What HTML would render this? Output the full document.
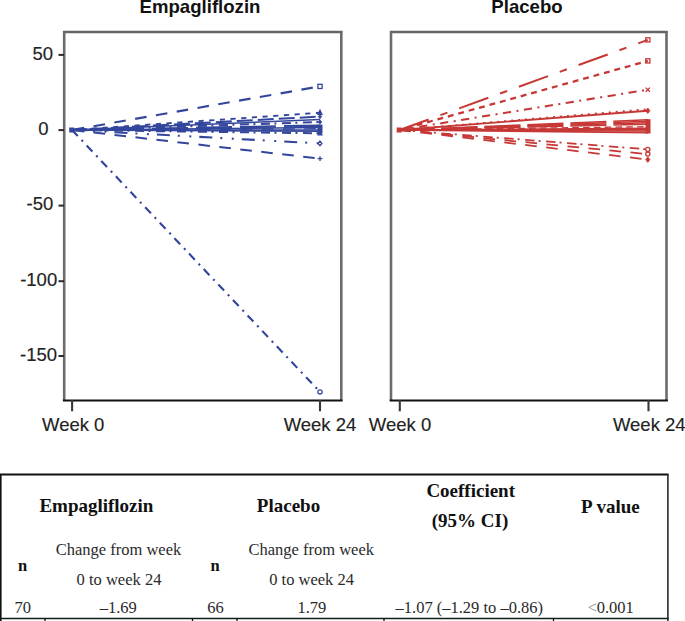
<!DOCTYPE html>
<html><head><meta charset="utf-8"><style>
html,body{margin:0;padding:0;background:#fff;width:685px;height:621px;overflow:hidden}
svg{display:block}
</style></head><body>
<svg width="685" height="621" viewBox="0 0 685 621">
<rect width="685" height="621" fill="#fff"/>
<line x1="72" y1="130.0" x2="320" y2="86.4" stroke="#33469c" stroke-width="2.16" stroke-dasharray="11.6 9.5" stroke-dashoffset="-0.8"/>
<line x1="72" y1="130.0" x2="320" y2="112.7" stroke="#33469c" stroke-width="1.89" stroke-dasharray="5.2 5.5" stroke-dashoffset="1.6"/>
<line x1="72" y1="130.0" x2="320" y2="116.6" stroke="#33469c" stroke-width="2.03" stroke-dasharray="16 5" stroke-dashoffset="3"/>
<line x1="72" y1="130.0" x2="320" y2="119.5" stroke="#33469c" stroke-width="1.62"/>
<line x1="72" y1="130.0" x2="320" y2="122.0" stroke="#33469c" stroke-width="2.03" stroke-dasharray="9 4.5 2 5.5"/>
<line x1="72" y1="130.0" x2="320" y2="125.2" stroke="#33469c" stroke-width="1.62" stroke-dasharray="36 8" stroke-dashoffset="8"/>
<line x1="72" y1="130.0" x2="320" y2="126.4" stroke="#33469c" stroke-width="1.49" stroke-dasharray="36 8" stroke-dashoffset="8"/>
<line x1="72" y1="130.0" x2="320" y2="127.6" stroke="#33469c" stroke-width="1.49"/>
<line x1="72" y1="130.0" x2="320" y2="128.8" stroke="#33469c" stroke-width="1.49" stroke-dasharray="11.6 9.5"/>
<line x1="72" y1="130.0" x2="320" y2="130.0" stroke="#33469c" stroke-width="1.62"/>
<line x1="72" y1="130.0" x2="320" y2="131.2" stroke="#33469c" stroke-width="1.62"/>
<line x1="72" y1="130.0" x2="320" y2="133.3" stroke="#33469c" stroke-width="2.03" stroke-dasharray="9 4.5 2 5.5"/>
<line x1="72" y1="130.0" x2="320" y2="143.4" stroke="#33469c" stroke-width="2.03" stroke-dasharray="13 8 2 9.5 2 8"/>
<line x1="72" y1="130.0" x2="320" y2="158.6" stroke="#33469c" stroke-width="2.03" stroke-dasharray="11.6 9.5" stroke-dashoffset="-0.6"/>
<line x1="72" y1="130.0" x2="320" y2="391.9" stroke="#33469c" stroke-width="2.16" stroke-dasharray="8.4 5.5 2 5.38"/>
<rect x="317.9" y="84.3" width="4.2" height="4.2" fill="none" stroke="#33469c" stroke-width="1.3"/>
<path d="M320.0 110.0 L322.1 114.4 L317.9 114.4Z" fill="#33469c" stroke="#33469c" stroke-width="1.04"/>
<path d="M320.0 114.4 L321.7 116.6 L320.0 118.8 L318.3 116.6Z" fill="#33469c" stroke="#33469c" stroke-width="0.78"/>
<path d="M320.0 119.8 L321.7 122.0 L320.0 124.2 L318.3 122.0Z" fill="#33469c" stroke="#33469c" stroke-width="0.78"/>
<path d="M320.0 130.6 L322.1 135.0 L317.9 135.0Z" fill="#33469c" stroke="#33469c" stroke-width="1.04"/>
<path d="M320.0 141.1 L321.9 143.4 L320.0 145.7 L318.1 143.4Z" fill="none" stroke="#33469c" stroke-width="1.3"/>
<path d="M317.6 158.6 L322.4 158.6 M320.0 156.2 L320.0 161.0" fill="none" stroke="#33469c" stroke-width="1.3"/>
<circle cx="320.0" cy="391.9" r="2.10" fill="none" stroke="#33469c" stroke-width="1.3"/>
<rect x="317.5" y="124.6" width="5" height="8.7" fill="#33469c"/>
<rect x="69.2" y="127.5" width="5.0" height="5.0" fill="#33469c"/>
<line x1="399.5" y1="130.0" x2="647.8" y2="39.9" stroke="#c63836" stroke-width="2.03" stroke-dasharray="31 12.5 7.5 12.5"/>
<line x1="399.5" y1="130.0" x2="647.8" y2="60.9" stroke="#c63836" stroke-width="2.29" stroke-dasharray="5.9 4.9" stroke-dashoffset="3.8"/>
<line x1="399.5" y1="130.0" x2="647.8" y2="89.7" stroke="#c63836" stroke-width="2.03" stroke-dasharray="8.2 5.5 2 5.5" stroke-dashoffset="1.2"/>
<line x1="399.5" y1="130.0" x2="647.8" y2="109.2" stroke="#c63836" stroke-width="1.76" stroke-dasharray="2 5"/>
<line x1="399.5" y1="130.0" x2="647.8" y2="110.7" stroke="#c63836" stroke-width="1.89"/>
<line x1="399.5" y1="130.0" x2="647.8" y2="119.8" stroke="#c63836" stroke-width="1.62" stroke-dasharray="36 7" stroke-dashoffset="1"/>
<line x1="399.5" y1="130.0" x2="647.8" y2="121.3" stroke="#c63836" stroke-width="1.49" stroke-dasharray="36 7" stroke-dashoffset="1"/>
<line x1="399.5" y1="130.0" x2="647.8" y2="122.8" stroke="#c63836" stroke-width="1.49" stroke-dasharray="36 7" stroke-dashoffset="1"/>
<line x1="399.5" y1="130.0" x2="647.8" y2="124.3" stroke="#c63836" stroke-width="1.49" stroke-dasharray="36 7" stroke-dashoffset="1"/>
<line x1="399.5" y1="130.0" x2="647.8" y2="126.7" stroke="#c63836" stroke-width="1.35" stroke-dasharray="6.6 4.2"/>
<line x1="399.5" y1="130.0" x2="647.8" y2="128.3" stroke="#c63836" stroke-width="1.49"/>
<line x1="399.5" y1="130.0" x2="647.8" y2="129.7" stroke="#c63836" stroke-width="1.49"/>
<line x1="399.5" y1="130.0" x2="647.8" y2="131.1" stroke="#c63836" stroke-width="1.49"/>
<line x1="399.5" y1="130.0" x2="647.8" y2="132.6" stroke="#c63836" stroke-width="1.62"/>
<line x1="399.5" y1="130.0" x2="647.8" y2="149.4" stroke="#c63836" stroke-width="1.76" stroke-dasharray="9.5 4 2 5.5"/>
<line x1="399.5" y1="130.0" x2="647.8" y2="154.1" stroke="#c63836" stroke-width="1.76" stroke-dasharray="11.6 9.5"/>
<line x1="399.5" y1="130.0" x2="647.8" y2="159.6" stroke="#c63836" stroke-width="1.76" stroke-dasharray="11.6 9.5"/>
<rect x="645.7" y="37.8" width="4.2" height="4.2" fill="none" stroke="#c63836" stroke-width="1.3"/>
<rect x="645.7" y="58.8" width="4.2" height="4.2" fill="none" stroke="#c63836" stroke-width="1.3"/>
<path d="M645.7 87.6 L649.9 91.8 M649.9 87.6 L645.7 91.8" fill="none" stroke="#c63836" stroke-width="1.3"/>
<path d="M647.8 108.0 L649.9 110.7 L647.8 113.5 L645.7 110.7Z" fill="#c63836" stroke="#c63836" stroke-width="0.78"/>
<circle cx="647.8" cy="149.4" r="2.10" fill="none" stroke="#c63836" stroke-width="1.3"/>
<circle cx="647.8" cy="154.1" r="2.10" fill="none" stroke="#c63836" stroke-width="1.3"/>
<path d="M647.8 156.9 L649.9 159.6 L647.8 162.4 L645.7 159.6Z" fill="#c63836" stroke="#c63836" stroke-width="0.78"/>
<rect x="645.5" y="119.2" width="5" height="14.3" fill="#c63836"/>
<rect x="396.7" y="127.5" width="5.0" height="5.0" fill="#c63836"/>
<line x1="64.2" y1="31" x2="64.2" y2="401" stroke="#6c6c6c" stroke-width="2.6"/>
<line x1="341.3" y1="31" x2="341.3" y2="401" stroke="#6c6c6c" stroke-width="2.6"/>
<line x1="63.2" y1="32" x2="342.3" y2="32" stroke="#666" stroke-width="2.3"/>
<line x1="62.900000000000006" y1="400.5" x2="342.6" y2="400.5" stroke="#111" stroke-width="1.9"/>
<line x1="72.1" y1="400" x2="72.1" y2="411.3" stroke="#383838" stroke-width="2.1"/>
<line x1="320" y1="400" x2="320" y2="411.3" stroke="#383838" stroke-width="2.1"/>
<line x1="391" y1="31" x2="391" y2="401" stroke="#6c6c6c" stroke-width="2.6"/>
<line x1="666.5" y1="31" x2="666.5" y2="401" stroke="#6c6c6c" stroke-width="2.6"/>
<line x1="390" y1="32" x2="667.5" y2="32" stroke="#666" stroke-width="2.3"/>
<line x1="389.7" y1="400.5" x2="667.8" y2="400.5" stroke="#111" stroke-width="1.9"/>
<line x1="399.8" y1="400" x2="399.8" y2="411.3" stroke="#383838" stroke-width="2.1"/>
<line x1="648.5" y1="400" x2="648.5" y2="411.3" stroke="#383838" stroke-width="2.1"/>
<line x1="58.5" y1="54.9" x2="64" y2="54.9" stroke="#2a2a2a" stroke-width="2"/>
<line x1="58.5" y1="130.1" x2="64" y2="130.1" stroke="#2a2a2a" stroke-width="2"/>
<line x1="58.5" y1="205.6" x2="64" y2="205.6" stroke="#2a2a2a" stroke-width="2"/>
<line x1="58.5" y1="281.2" x2="64" y2="281.2" stroke="#2a2a2a" stroke-width="2"/>
<line x1="58.5" y1="356.0" x2="64" y2="356.0" stroke="#2a2a2a" stroke-width="2"/>
<text font-family="Liberation Sans, sans-serif" font-size="18.5" fill="#222" stroke="#222" stroke-width="0.15" x="53.0" y="60.0" text-anchor="end">50</text>
<text font-family="Liberation Sans, sans-serif" font-size="18.5" fill="#222" stroke="#222" stroke-width="0.15" x="48.6" y="135.2" text-anchor="end">0</text>
<text font-family="Liberation Sans, sans-serif" font-size="18.5" fill="#222" stroke="#222" stroke-width="0.15" x="53.3" y="210.4" text-anchor="end">-50</text>
<text font-family="Liberation Sans, sans-serif" font-size="18.5" fill="#222" stroke="#222" stroke-width="0.15" x="57.2" y="285.7" text-anchor="end">-100</text>
<text font-family="Liberation Sans, sans-serif" font-size="18.5" fill="#222" stroke="#222" stroke-width="0.15" x="57.0" y="360.9" text-anchor="end">-150</text>
<text font-family="Liberation Sans, sans-serif" font-size="18.5" fill="#222" stroke="#222" stroke-width="0.15" x="73.2" y="430.5" text-anchor="middle">Week 0</text>
<text font-family="Liberation Sans, sans-serif" font-size="18.5" fill="#222" stroke="#222" stroke-width="0.15" x="320" y="430.5" text-anchor="middle">Week 24</text>
<text font-family="Liberation Sans, sans-serif" font-size="18.5" fill="#222" stroke="#222" stroke-width="0.15" x="400" y="430.5" text-anchor="middle">Week 0</text>
<text font-family="Liberation Sans, sans-serif" font-size="18.5" fill="#222" stroke="#222" stroke-width="0.15" x="649.3" y="430.5" text-anchor="middle">Week 24</text>
<text font-family="Liberation Sans, sans-serif" font-weight="bold" font-size="18.6" fill="#111" x="200" y="13" text-anchor="middle">Empagliflozin</text>
<text font-family="Liberation Sans, sans-serif" font-weight="bold" font-size="18.6" fill="#111" x="527" y="13" text-anchor="middle">Placebo</text>
<line x1="0" y1="474.5" x2="668.5" y2="474.5" stroke="#111" stroke-width="1.8"/>
<line x1="0.8" y1="474" x2="0.8" y2="621" stroke="#111" stroke-width="1.6"/>
<line x1="667.9" y1="474" x2="667.9" y2="621" stroke="#2a2a2a" stroke-width="1.6"/>
<line x1="0" y1="618.5" x2="668.5" y2="618.5" stroke="#1a1a1a" stroke-width="1.7"/>
<line x1="45" y1="618" x2="45" y2="621" stroke="#111" stroke-width="1.3"/>
<line x1="192.5" y1="618" x2="192.5" y2="621" stroke="#111" stroke-width="1.3"/>
<line x1="237" y1="618" x2="237" y2="621" stroke="#111" stroke-width="1.3"/>
<line x1="384" y1="618" x2="384" y2="621" stroke="#111" stroke-width="1.3"/>
<line x1="553.5" y1="618" x2="553.5" y2="621" stroke="#111" stroke-width="1.3"/>
<text font-family="Liberation Serif, serif" font-weight="bold" font-size="19" fill="#111" text-anchor="middle" x="96.4" y="511.5">Empagliflozin</text>
<text font-family="Liberation Serif, serif" font-weight="bold" font-size="19" fill="#111" text-anchor="middle" x="288.5" y="512">Placebo</text>
<text font-family="Liberation Serif, serif" font-weight="bold" font-size="19" fill="#111" text-anchor="middle" x="470.7" y="497.4">Coefficient</text>
<text font-family="Liberation Serif, serif" font-weight="bold" font-size="19" fill="#111" text-anchor="middle" x="470" y="526.7">(95% CI)</text>
<text font-family="Liberation Serif, serif" font-weight="bold" font-size="19" fill="#111" text-anchor="middle" x="610.4" y="512.7">P value</text>
<text font-family="Liberation Serif, serif" font-weight="bold" font-size="16.5" fill="#111" text-anchor="middle" x="22.7" y="570.8">n</text>
<text font-family="Liberation Serif, serif" font-weight="bold" font-size="16.5" fill="#111" text-anchor="middle" x="215" y="570.8">n</text>
<text font-family="Liberation Serif, serif" font-size="16.5" fill="#2a2a2a" text-anchor="middle" x="118.5" y="555.4">Change from week</text>
<text font-family="Liberation Serif, serif" font-size="16.5" fill="#2a2a2a" text-anchor="middle" x="119" y="585.2">0 to week 24</text>
<text font-family="Liberation Serif, serif" font-size="16.5" fill="#2a2a2a" text-anchor="middle" x="311.2" y="555.4">Change from week</text>
<text font-family="Liberation Serif, serif" font-size="16.5" fill="#2a2a2a" text-anchor="middle" x="311.6" y="585.2">0 to week 24</text>
<text font-family="Liberation Serif, serif" font-size="16.5" fill="#2a2a2a" text-anchor="middle" x="22.8" y="613.2">70</text>
<text font-family="Liberation Serif, serif" font-size="16.5" fill="#2a2a2a" text-anchor="middle" x="118.3" y="613.2">–1.69</text>
<text font-family="Liberation Serif, serif" font-size="16.5" fill="#2a2a2a" text-anchor="middle" x="215.4" y="613.2">66</text>
<text font-family="Liberation Serif, serif" font-size="16.5" fill="#2a2a2a" text-anchor="middle" x="311.9" y="613.2">1.79</text>
<text font-family="Liberation Serif, serif" font-size="16.5" fill="#2a2a2a" text-anchor="middle" x="469.3" y="613.2">–1.07 (–1.29 to –0.86)</text>
<text font-family="Liberation Serif, serif" font-size="16.5" fill="#2a2a2a" text-anchor="middle" x="610.6" y="613.2"><tspan fill="#8a8a9a">&lt;</tspan>0.001</text>
</svg>
</body></html>
